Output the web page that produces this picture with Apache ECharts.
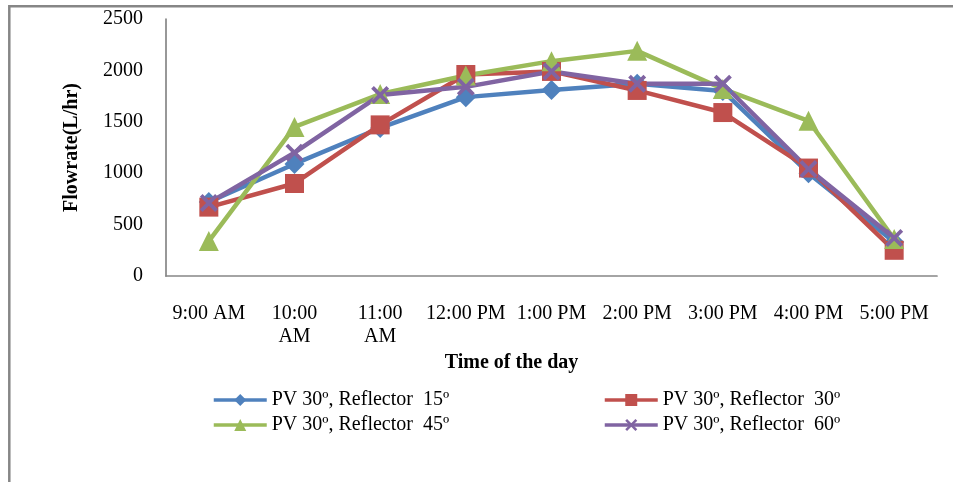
<!DOCTYPE html>
<html>
<head>
<meta charset="utf-8">
<script src="https://cdn.jsdelivr.net/npm/echarts@6/dist/echarts.min.js"></script>
<style>
html,body{margin:0;padding:0;background:#fff;}
#chart{width:953px;height:482px;}
</style>
</head>
<body>
<div id="chart"></div>
<script>
var categories = ['9:00 AM', '10:00\nAM', '11:00\nAM', '12:00 PM', '1:00 PM', '2:00 PM', '3:00 PM', '4:00 PM', '5:00 PM'];
var yTicks = [0, 500, 1000, 1500, 2000, 2500];
var seriesNames = ['PV 30º, Reflector  15º', 'PV 30º, Reflector  30º', 'PV 30º, Reflector  45º', 'PV 30º, Reflector  60º'];
var reflector15 = [720, 1090, 1440, 1740, 1810, 1870, 1800, 1000, 330];
var reflector30 = [670, 900, 1470, 1960, 1990, 1805, 1590, 1050, 250];
var reflector45 = [340, 1450, 1770, 1950, 2090, 2190, 1820, 1510, 360];
var reflector60 = [710, 1200, 1760, 1840, 1990, 1870, 1870, 1040, 370];

var FONT = 'Liberation Serif';
var colors = ['#4F81BD', '#C0504D', '#9BBB59', '#8064A2'];
var crossPath = 'path://M0,1.5 L1.5,0 L5,3.5 L8.5,0 L10,1.5 L6.5,5 L10,8.5 L8.5,10 L5,6.5 L1.5,10 L0,8.5 L3.5,5 Z';

function mk(name, data, color, symbol, size) {
  return {
    name: name,
    type: 'line',
    data: data,
    symbol: symbol,
    symbolSize: size,
    showAllSymbol: true,
    lineStyle: { color: color, width: 4.5 },
    itemStyle: { color: color, borderWidth: 0 },
    emphasis: { disabled: true },
    animation: false
  };
}

var legendText = { fontFamily: FONT, fontSize: 20, color: '#000', lineHeight: 20 };

var chart = echarts.init(document.getElementById('chart'), null, { renderer: 'canvas' });
chart.setOption({
  backgroundColor: '#ffffff',
  animation: false,
  color: colors,
  textStyle: { fontFamily: FONT, color: '#000' },
  graphic: [{
    type: 'rect',
    shape: { x: 9.3, y: 6.3, width: 980, height: 520 },
    style: { fill: 'none', stroke: '#868686', lineWidth: 2.5 },
    silent: true
  }],
  grid: { left: 166, right: 16, top: 19, bottom: 206, containLabel: false },
  legend: [{
    data: [seriesNames[0], seriesNames[2]],
    orient: 'vertical',
    left: 212, top: 390,
    padding: 0,
    itemWidth: 53, itemHeight: 15, itemGap: 5,
    lineStyle: { width: 3.5 },
    textStyle: legendText
  }, {
    data: [seriesNames[1], seriesNames[3]],
    orient: 'vertical',
    left: 603, top: 390,
    padding: 0,
    itemWidth: 53, itemHeight: 15, itemGap: 5,
    lineStyle: { width: 3.5 },
    textStyle: legendText
  }],
  xAxis: {
    type: 'category',
    data: categories,
    boundaryGap: true,
    name: 'Time of the day',
    nameLocation: 'middle',
    nameGap: 71,
    nameTextStyle: { fontFamily: FONT, fontSize: 20, fontWeight: 'bold', color: '#000', padding: [0, 80, 0, 0] },
    axisLine: { show: true, lineStyle: { color: '#868686', width: 1.7 } },
    axisTick: { show: false },
    axisLabel: { interval: 0, margin: 26, fontFamily: FONT, fontSize: 20, color: '#000', lineHeight: 23 },
    splitLine: { show: false }
  },
  yAxis: {
    type: 'value',
    min: yTicks[0],
    max: yTicks[yTicks.length - 1],
    interval: 500,
    name: 'Flowrate(L/hr)',
    nameLocation: 'middle',
    nameGap: 84,
    nameRotate: 90,
    nameTextStyle: { fontFamily: FONT, fontSize: 20, fontWeight: 'bold', color: '#000' },
    axisLine: { show: true, lineStyle: { color: '#868686', width: 1.7 } },
    axisTick: { show: false },
    axisLabel: { margin: 23, fontFamily: FONT, fontSize: 20, color: '#000', formatter: function (v) { return String(v); } },
    splitLine: { show: false }
  },
  series: [
    mk(seriesNames[0], reflector15, colors[0], 'diamond', 20),
    mk(seriesNames[1], reflector30, colors[1], 'rect', 19),
    mk(seriesNames[2], reflector45, colors[2], 'triangle', 20),
    mk(seriesNames[3], reflector60, colors[3], crossPath, 18)
  ]
});
</script>
</body>
</html>
